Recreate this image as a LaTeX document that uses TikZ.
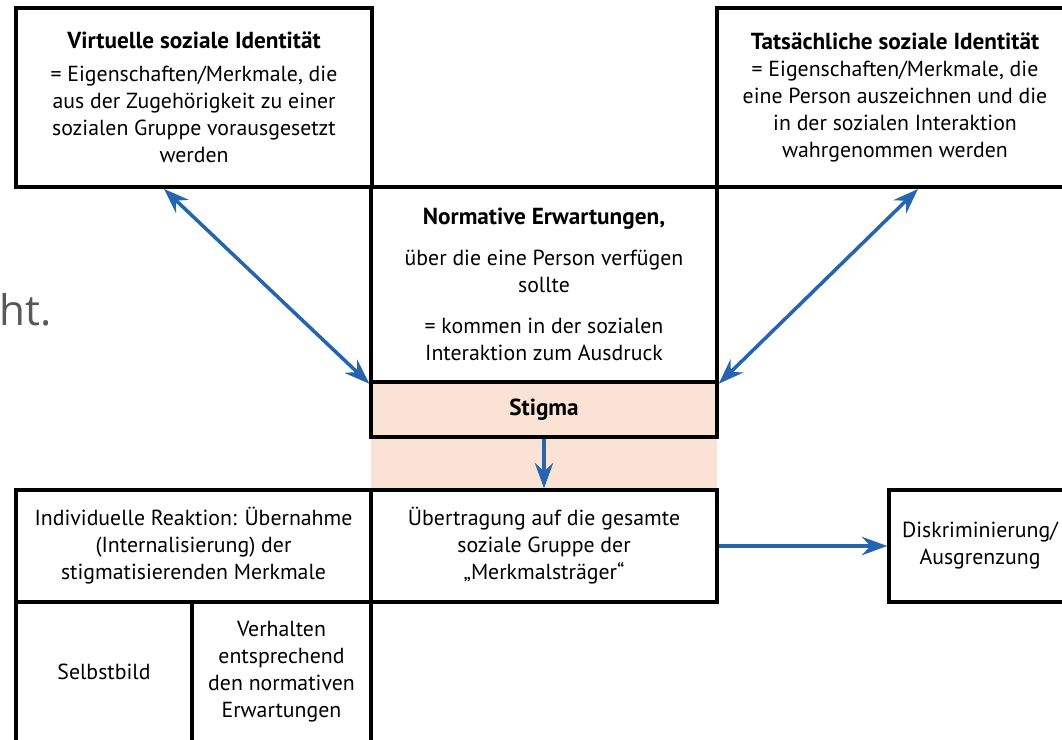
\documentclass[tikz,border=0pt]{standalone}
\usepackage{fontspec}
\setmainfont{PT Sans}
\newfontfamily\ghostfont{Open Sans}
\usepackage{tikz}
\usetikzlibrary{arrows.meta}
\definecolor{stigpeach}{RGB}{250,227,212}
\definecolor{arrblue}{RGB}{38,100,175}
\newcommand{\boxhead}[1]{{\fontsize{16.5}{19.2}\selectfont\bfseries #1}}

\begin{document}
\begin{tikzpicture}[x=0.025cm,y=-0.025cm,
  box/.style={draw=black,line width=2.4pt,align=center,inner sep=0pt,
    font=\fontsize{15.5}{19.2}\selectfont},
  arr/.style={draw=arrblue,line width=2.5pt,-{Stealth[length=18pt,width=13pt,inset=6pt]}},
  dblarr/.style={arr,{Stealth[length=18pt,width=13pt,inset=6pt]}-{Stealth[length=18pt,width=13pt,inset=6pt]}}]
\clip (0,0) rectangle (1062,740);
\fill[white] (0,0) rectangle (1062,740);
% left-over text at the margin
\node[font=\ghostfont\fontsize{30}{32}\selectfont,text=black!65,anchor=base west,inner sep=0pt] (ht) at (-1,326) {ht.};
% peach band under the stigma box
\fill[stigpeach] (371,437) rectangle (717,490);
% top row
\node[box,minimum width=8.9cm,minimum height=4.475cm] (vis) at (194,97.5)
  {\boxhead{Virtuelle soziale Identität}\\[4pt] = Eigenschaften/Merkmale, die\\ aus der Zugehörigkeit zu einer\\ sozialen Gruppe vorausgesetzt\\ werden};
\node[box,minimum width=8.9cm,minimum height=4.475cm] (tsi) at (895,97.5)
  {\boxhead{Tatsächliche soziale Identität}\\ = Eigenschaften/Merkmale, die\\ eine Person auszeichnen und die\\ in der sozialen Interaktion\\ wahrgenommen werden};
\node[box,minimum width=8.65cm,minimum height=4.875cm] (norm) at (544,284.5)
  {\boxhead{Normative Erwartungen,}\\[10pt] über die eine Person verfügen\\ sollte\\[10pt] = kommen in der sozialen\\ Interaktion zum Ausdruck};
\node[box,fill=stigpeach,minimum width=8.65cm,minimum height=1.375cm] (stig) at (544,409.5) {\boxhead{Stigma}};
% bottom row
\node[box,minimum width=8.875cm,minimum height=2.8cm] (ind) at (193.5,546)
  {Individuelle Reaktion: Übernahme\\ (Internalisierung) der\\ stigmatisierenden Merkmale};
\node[box,minimum width=8.65cm,minimum height=2.8cm] (ueb) at (544,546)
  {Übertragung auf die gesamte\\ soziale Gruppe der\\ „Merkmalsträger“};
\node[box,minimum width=4.55cm,minimum height=2.8cm] (disk) at (980,546)
  {Diskriminierung/\\ Ausgrenzung};
\node[box,minimum width=4.4cm,minimum height=3.5cm] (sel) at (104,672) {Selbstbild};
\node[box,minimum width=4.475cm,minimum height=3.5cm] (ver) at (281.5,672)
  {Verhalten\\ entsprechend\\ den normativen\\ Erwartungen};
% arrows
\coordinate (vtip) at (164,189);
\coordinate (ttip) at (918,189);
\draw[dblarr] (vtip) -- (norm.south west);
\draw[dblarr] (ttip) -- (norm.south east);
\draw[arr] (stig.south) -- (ueb.north);
\draw[arr] (ueb.east) -- (disk.west);
\end{tikzpicture}
\end{document}
